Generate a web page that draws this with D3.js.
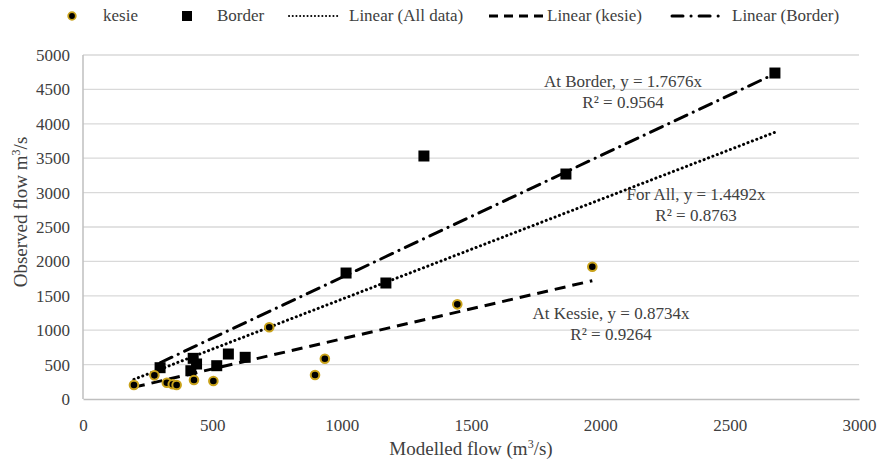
<!DOCTYPE html>
<html>
<head>
<meta charset="utf-8">
<script src="https://cdn.jsdelivr.net/npm/d3@7"></script>
<style>
  html, body { margin: 0; padding: 0; background: #fff; }
  svg { display: block; font-family: "Liberation Serif", "Times New Roman", serif; }
</style>
</head>
<body>
<div id="chart"></div>
<script>
// Modelled vs observed flow at two stations
const kesieModelled = [197, 276, 324, 347, 362, 429, 504, 720, 897, 935, 1447, 1969];
const kesieObserved = [203, 344, 237, 214, 203, 276, 262, 1042, 349, 586, 1376, 1923];
const borderModelled = [298, 426, 439, 417, 517, 562, 627, 1017, 1171, 1318, 1867, 2675];
const borderObserved = [455, 591, 509, 411, 484, 654, 606, 1831, 1686, 3532, 3270, 4738];

// Regression slopes (through origin) and R² values
const trendNames = ["All data", "kesie", "Border"];
const trendSlopes = [1.4492, 0.8734, 1.7676];
const trendR2 = ["0.8763", "0.9264", "0.9564"];
const trendLabels = ["For All, y = 1.4492x", "At Kessie, y = 0.8734x", "At Border, y = 1.7676x"];

const xTicks = [0, 500, 1000, 1500, 2000, 2500, 3000];
const yTicks = [0, 500, 1000, 1500, 2000, 2500, 3000, 3500, 4000, 4500, 5000];

const W = 880, H = 461;
const svg = d3.select("#chart").append("svg").attr("width", W).attr("height", H);

const x = d3.scaleLinear().domain([0, 3000]).range([83, 859]);
const y = d3.scaleLinear().domain([0, 5000]).range([399, 55]);

const gold = "#c9a21a";
const textCol = "#404040";

// gridlines
svg.append("g").selectAll("line").data(yTicks.filter(d => d > 0)).join("line")
  .attr("x1", x(0)).attr("x2", x(3000))
  .attr("y1", d => y(d)).attr("y2", d => y(d))
  .attr("stroke", "#d9d9d9").attr("stroke-width", 1.3);

// axes
const xAxis = svg.append("g").attr("transform", `translate(0,${y(0)})`)
  .call(d3.axisBottom(x).tickValues(xTicks).tickSize(0).tickPadding(20).tickFormat(d3.format("d")));
const yAxis = svg.append("g").attr("transform", `translate(${x(0)},0)`)
  .call(d3.axisLeft(y).tickValues(yTicks).tickSize(0).tickPadding(13).tickFormat(d3.format("d")));
[xAxis, yAxis].forEach(g => {
  g.select(".domain").attr("stroke", "#bfbfbf").attr("stroke-width", 1.5);
  g.selectAll("text").attr("fill", textCol).attr("font-size", 17)
    .attr("font-family", "Liberation Serif, serif");
});
yAxis.select(".domain").attr("d", `M0,${y(5000)}V${y(0)}`);

// axis titles
const xt = svg.append("text").attr("x", 471).attr("y", 455).attr("text-anchor", "middle")
  .attr("font-size", 19).attr("fill", textCol);
xt.append("tspan").text("Modelled flow (m");
xt.append("tspan").attr("font-size", 12).attr("dy", -7).text("3");
xt.append("tspan").attr("dy", 7).text("/s)");

const yt = svg.append("text").attr("transform", `translate(27,212) rotate(-90)`)
  .attr("text-anchor", "middle").attr("font-size", 19).attr("fill", textCol);
yt.append("tspan").text("Observed flow m");
yt.append("tspan").attr("font-size", 12).attr("dy", -7).text("3");
yt.append("tspan").attr("dy", 7).text("/s");

// trendlines
const allModelled = kesieModelled.concat(borderModelled);
const trendRanges = [d3.extent(allModelled), d3.extent(kesieModelled), d3.extent(borderModelled)];
const trendDash = ["0.1 4.6", "11 7", "13 7 0.1 7"];
const trendCap = ["round", "butt", "round"];
trendSlopes.forEach((k, i) => {
  const [a, b] = trendRanges[i];
  svg.append("line")
    .attr("x1", x(a)).attr("y1", y(k * a))
    .attr("x2", x(b)).attr("y2", y(k * b))
    .attr("stroke", "#000").attr("stroke-width", 3)
    .attr("stroke-dasharray", trendDash[i]).attr("stroke-linecap", trendCap[i]);
});

// points
svg.append("g").selectAll("rect").data(borderModelled.map((d, i) => [d, borderObserved[i]])).join("rect")
  .attr("x", d => x(d[0]) - 5.5).attr("y", d => y(d[1]) - 5.5)
  .attr("width", 11).attr("height", 11).attr("fill", "#000");
svg.append("g").selectAll("circle").data(kesieModelled.map((d, i) => [d, kesieObserved[i]])).join("circle")
  .attr("cx", d => x(d[0])).attr("cy", d => y(d[1])).attr("r", 4.3)
  .attr("fill", "#000").attr("stroke", gold).attr("stroke-width", 2);

// equation labels
const labelPos = [[696, 200], [611, 319], [623, 87]];
trendSlopes.forEach((k, i) => {
  const [lx, ly] = labelPos[i];
  svg.append("text").attr("x", lx).attr("y", ly).attr("text-anchor", "middle")
    .attr("font-size", 17).attr("fill", textCol).text(trendLabels[i]);
  svg.append("text").attr("x", lx).attr("y", ly + 21).attr("text-anchor", "middle")
    .attr("font-size", 17).attr("fill", textCol).text("R² = " + trendR2[i]);
});

// legend
const lg = svg.append("g").attr("font-size", 17).attr("fill", textCol);
const ly0 = 16;
lg.append("circle").attr("cx", 72).attr("cy", ly0).attr("r", 3.8)
  .attr("fill", "#000").attr("stroke", gold).attr("stroke-width", 1.8);
lg.append("text").attr("x", 103).attr("y", ly0 + 5).text("kesie");
lg.append("rect").attr("x", 182).attr("y", ly0 - 5).attr("width", 10).attr("height", 10).attr("fill", "#000");
lg.append("text").attr("x", 217).attr("y", ly0 + 5).text("Border");
const legendLines = [[289, 338, 349], [489, 543, 547], [672, 726, 732]];
legendLines.forEach(([a, b, t], i) => {
  lg.append("line").attr("x1", a).attr("x2", b).attr("y1", ly0).attr("y2", ly0)
    .attr("stroke", "#000").attr("stroke-width", i === 0 ? 2 : 3)
    .attr("stroke-dasharray", i === 0 ? "0.1 3.6" : (i === 1 ? "9 6" : "11 8 0.1 8"))
    .attr("stroke-linecap", i === 1 ? "butt" : "round");
  lg.append("text").attr("x", t).attr("y", ly0 + 5).text("Linear (" + trendNames[i] + ")");
});
</script>
</body>
</html>
